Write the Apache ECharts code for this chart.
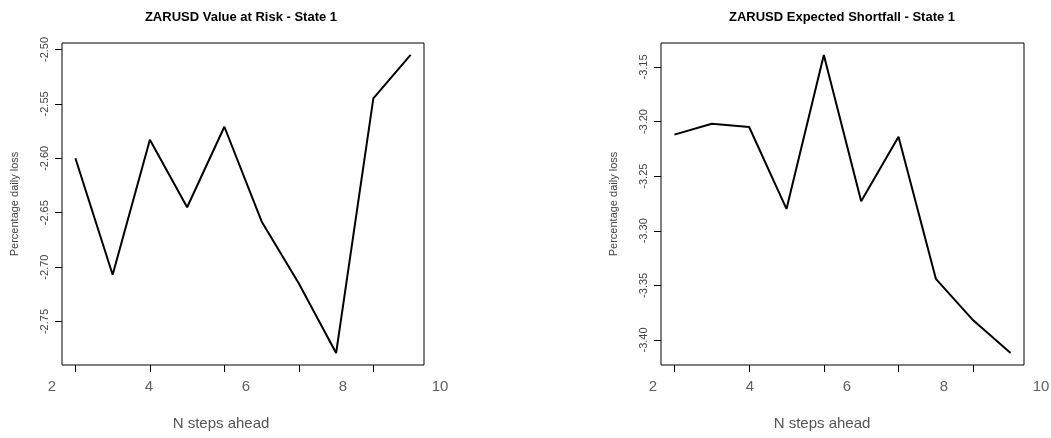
<!DOCTYPE html>
<html>
<head>
<meta charset="utf-8">
<script src="https://cdn.jsdelivr.net/npm/echarts@6/dist/echarts.min.js"></script>
<style>
html,body{margin:0;padding:0;background:#fff;}
#chart{width:1051px;height:438px;}
</style>
</head>
<body>
<div id="chart"></div>
<script>
// ---- data ----
var steps = [2, 3, 4, 5, 6, 7, 8, 9, 10, 11];
var varValues = [-2.600, -2.707, -2.583, -2.645, -2.571, -2.658, -2.715, -2.779, -2.545, -2.505];
var esValues = [-3.212, -3.202, -3.205, -3.280, -3.139, -3.273, -3.214, -3.344, -3.382, -3.412];
var xTickValues = [2, 4, 6, 8, 10];
var xTickLabels = [2, 4, 6, 8, 10];
var varYTicks = [-2.75, -2.70, -2.65, -2.60, -2.55, -2.50];
var esYTicks = [-3.40, -3.35, -3.30, -3.25, -3.20, -3.15];
var titles = ['ZARUSD Value at Risk - State 1', 'ZARUSD Expected Shortfall - State 1'];
var xName = 'N steps ahead';
var yName = 'Percentage daily loss';

function pad(arr) {
  var lo = Math.min.apply(null, arr), hi = Math.max.apply(null, arr);
  var d = (hi - lo) * 0.04;
  return [lo - d, hi + d];
}
var xr = pad(steps), yr1 = pad(varValues), yr2 = pad(esValues);

function pairs(vals) { return steps.map(function (s, i) { return [s, vals[i]]; }); }

var font = 'Liberation Sans, Arial, sans-serif';

function dataX(gi) {
  return {
    type: 'value', gridIndex: gi, min: xr[0], max: xr[1],
    axisLine: { show: false },
    axisTick: { show: true, length: 7, customValues: xTickValues, lineStyle: { color: '#000', width: 1 } },
    axisLabel: { show: false },
    splitLine: { show: false }
  };
}
function labelX(gi) {
  return {
    type: 'value', gridIndex: gi, min: 2, max: 10, interval: 2,
    axisLine: { show: false }, axisTick: { show: false }, splitLine: { show: false },
    axisLabel: { show: true, customValues: xTickLabels, margin: 14, fontSize: 15, color: '#606060', fontFamily: font,
      formatter: function (v) { return String(v); } }
  };
}
function dataY(gi, r, ticks) {
  return {
    type: 'value', gridIndex: gi, min: r[0], max: r[1],
    axisLine: { show: false },
    axisTick: { show: true, length: 7, customValues: ticks, lineStyle: { color: '#000', width: 1 } },
    axisLabel: { show: true, customValues: ticks, rotate: 90, margin: 12, fontSize: 11, color: '#444', fontFamily: font,
      formatter: function (v) { return v.toFixed(2); } },
    splitLine: { show: false },
    name: yName, nameLocation: 'middle', nameRotate: 90, nameGap: 42,
    nameTextStyle: { fontSize: 11, color: '#444', fontFamily: font }
  };
}
function hiddenY(gi) { return { type: 'value', gridIndex: gi, min: 0, max: 1, show: false }; }

var gridBase = { show: true, borderColor: '#000', borderWidth: 1, backgroundColor: 'transparent', outerBoundsMode: 'none', containLabel: false };

var option = {
  animation: false,
  backgroundColor: '#fff',
  title: [
    { text: titles[0], left: 241, top: 17, textAlign: 'center', textVerticalAlign: 'middle', padding: 0,
      textStyle: { fontSize: 13, fontWeight: 'bold', color: '#000', fontFamily: font } },
    { text: titles[1], left: 842, top: 17, textAlign: 'center', textVerticalAlign: 'middle', padding: 0,
      textStyle: { fontSize: 13, fontWeight: 'bold', color: '#000', fontFamily: font } },
    { text: xName, left: 221, top: 424, textAlign: 'center', textVerticalAlign: 'middle', padding: 0,
      textStyle: { fontSize: 15, fontWeight: 'normal', color: '#555', fontFamily: font } },
    { text: xName, left: 822, top: 424, textAlign: 'center', textVerticalAlign: 'middle', padding: 0,
      textStyle: { fontSize: 15, fontWeight: 'normal', color: '#555', fontFamily: font } }
  ],
  grid: [
    Object.assign({ left: 62, top: 43, width: 362, height: 322 }, gridBase),
    Object.assign({ left: 661, top: 43, width: 363, height: 322 }, gridBase),
    { left: 52, top: 43, width: 388, height: 322, show: false, outerBoundsMode: 'none', containLabel: false },
    { left: 653, top: 43, width: 388, height: 322, show: false, outerBoundsMode: 'none', containLabel: false }
  ],
  xAxis: [dataX(0), dataX(1), labelX(2), labelX(3)],
  yAxis: [dataY(0, yr1, varYTicks), dataY(1, yr2, esYTicks), hiddenY(2), hiddenY(3)],
  series: [
    { type: 'line', xAxisIndex: 0, yAxisIndex: 0, data: pairs(varValues), symbol: 'none',
      lineStyle: { color: '#000', width: 2 } },
    { type: 'line', xAxisIndex: 1, yAxisIndex: 1, data: pairs(esValues), symbol: 'none',
      lineStyle: { color: '#000', width: 2 } }
  ]
};

var chart = echarts.init(document.getElementById('chart'), null, { renderer: 'canvas' });
chart.setOption(option);
</script>
</body>
</html>
